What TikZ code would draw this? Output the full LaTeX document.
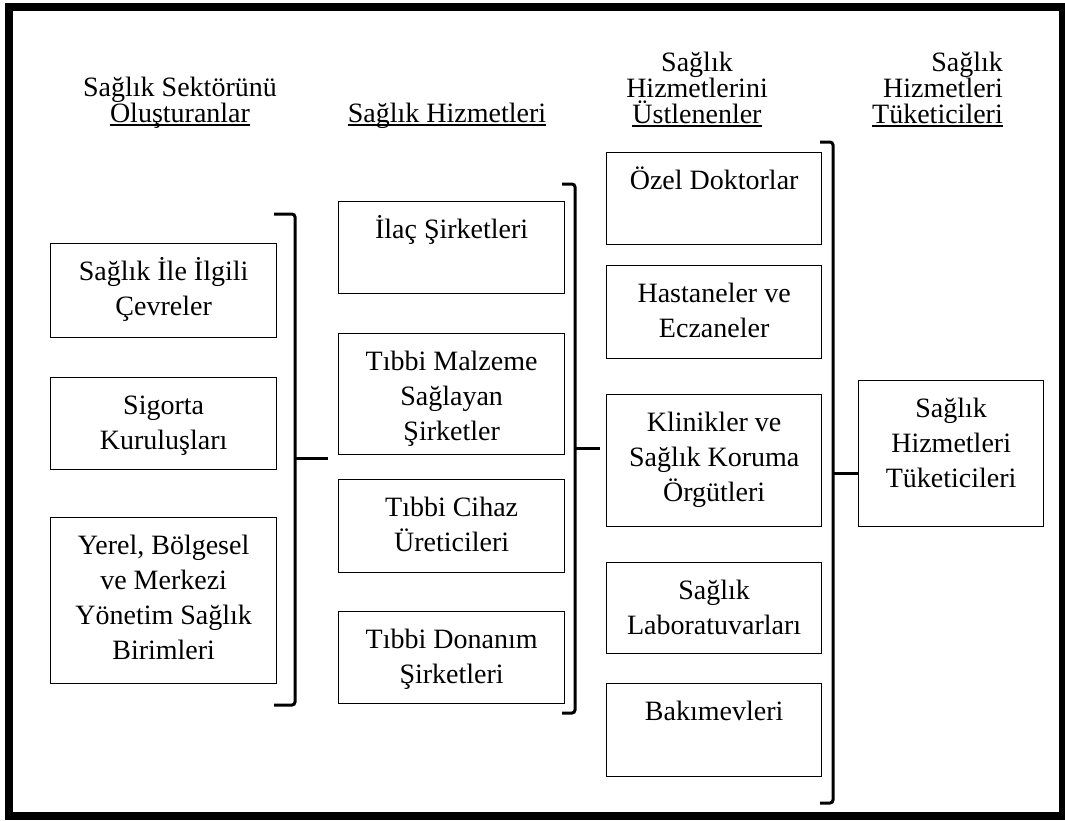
\documentclass[tikz,border=0pt]{standalone}
\usepackage{fontspec}
\setmainfont{Liberation Serif}
\newcommand\bxt[3]{\parbox[c][#2pt][t]{#1pt}{\centering\fontsize{28}{35}\selectfont\rule{0pt}{37pt}#3}}
\newcommand\hul[1]{\setbox0\hbox{#1}\rlap{\rule[-3.5pt]{\wd0}{1.6pt}}\box0}
\newcommand\hstackc[1]{\vtop{\baselineskip=26pt\lineskiplimit=-60pt\lineskip=0pt\halign{\hfil##\hfil\cr#1\crcr}}}
\newcommand\hstackr[1]{\vtop{\baselineskip=26pt\lineskiplimit=-60pt\lineskip=0pt\halign{\hfil##\cr#1\crcr}}}
\tikzset{
  box/.style={draw=black, line width=1.3pt, inner sep=0pt, anchor=north west},
  hdr/.style={inner sep=0pt, anchor=base, font=\fontsize{28}{26}\selectfont},
  hdrr/.style={hdr, anchor=base east},
  brk/.style={line width=3pt, rounded corners=3pt},
  tickline/.style={line width=3pt},
  frameline/.style={line width=8pt}
}
\begin{document}
\begin{tikzpicture}[x=1pt,y=-1pt]
\useasboundingbox (0,0) rectangle (1065,820);
\fill[white] (0,0) rectangle (1065,820);
\draw[frameline] (8.5,7) rectangle (1063,816);

% headers
\node[hdr] (h1) at (180,96) {\hstackc{Sağlık Sektörünü\cr\hul{Oluşturanlar}}};
\node[hdr] (h2) at (447,122) {\hul{Sağlık Hizmetleri}};
\node[hdr] (h3) at (697,71) {\hstackc{Sağlık\cr Hizmetlerini\cr\hul{Üstlenenler}}};
\node[hdrr] (h4) at (1003,71) {\hstackr{Sağlık\cr Hizmetleri\cr\hul{Tüketicileri}}};

% column 1
\node[box] (b11) at (50,243) {\bxt{226}{94}{Sağlık İle İlgili\\Çevreler}};
\node[box] (b12) at (50,377) {\bxt{226}{92}{Sigorta\\Kuruluşları}};
\node[box] (b13) at (50,517) {\bxt{226}{166}{Yerel, Bölgesel\\ve Merkezi\\Yönetim Sağlık\\Birimleri}};

% column 2
\node[box] (b21) at (338,201) {\bxt{226}{92}{İlaç Şirketleri}};
\node[box] (b22) at (338,333) {\bxt{226}{121}{Tıbbi Malzeme\\Sağlayan\\Şirketler}};
\node[box] (b23) at (338,479) {\bxt{226}{93}{Tıbbi Cihaz\\Üreticileri}};
\node[box] (b24) at (338,611) {\bxt{226}{92}{Tıbbi Donanım\\Şirketleri}};

% column 3
\node[box] (b31) at (606,152) {\bxt{215}{92}{Özel Doktorlar}};
\node[box] (b32) at (606,265) {\bxt{215}{93}{Hastaneler ve\\Eczaneler}};
\node[box] (b33) at (606,394) {\bxt{215}{132}{Klinikler ve\\Sağlık Koruma\\Örgütleri}};
\node[box] (b34) at (606,562) {\bxt{215}{91}{Sağlık\\Laboratuvarları}};
\node[box] (b35) at (606,683) {\bxt{215}{93}{Bakımevleri}};

% column 4
\node[box] (b4) at (858,380) {\bxt{185}{146}{Sağlık\\Hizmetleri\\Tüketicileri}};

% brackets
\draw[brk] (274,214) -- (295,214) -- (295,705) -- (274,705);
\draw[brk] (562,184) -- (575,184) -- (575,713) -- (562,713);
\draw[brk] (820,142) -- (833,142) -- (833,803) -- (820,803);

% ticks
\coordinate (k1) at (295,458);
\coordinate (k1e) at (328,458);
\coordinate (k2) at (575,448);
\coordinate (k2e) at (600,448);
\coordinate (k3) at (833,473);
\draw[tickline] (k1) -- (k1e);
\draw[tickline] (k2) -- (k2e);
\draw[tickline] (k3) -- (k3 -| b4.west);
\end{tikzpicture}
\end{document}
